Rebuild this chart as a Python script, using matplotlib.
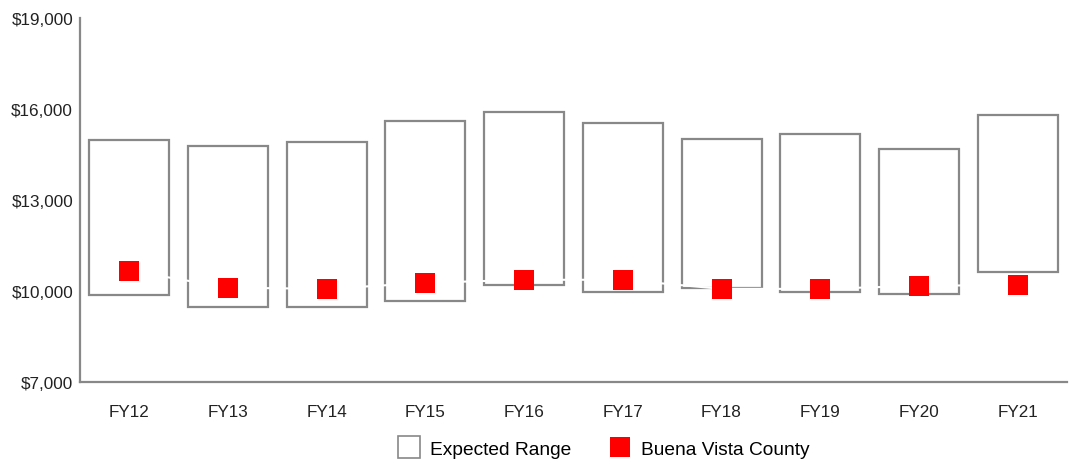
import matplotlib
matplotlib.use("Agg")
import matplotlib.pyplot as plt
from matplotlib.patches import Rectangle
from matplotlib.lines import Line2D
from matplotlib.ticker import FuncFormatter

plt.rcParams['font.family'] = ['Liberation Sans', 'DejaVu Sans']

categories = ["FY12", "FY13", "FY14", "FY15", "FY16", "FY17", "FY18", "FY19", "FY20", "FY21"]
range_low = [9880, 9480, 9460, 9680, 10190, 9960, 10090, 9980, 9890, 10620]
range_high = [14970, 14780, 14910, 15600, 15900, 15540, 15010, 15170, 14690, 15810]
county = [10670, 10110, 10070, 10270, 10370, 10370, 10070, 10070, 10170, 10200]
y_ticks = [7000, 10000, 13000, 16000, 19000]

gray = "#888888"
fig = plt.figure(figsize=(10.73, 4.6), dpi=100)
ax = fig.add_axes([80/1073, 77/460, (1067-80)/1073, (383-19)/460])

x = list(range(len(categories)))
w = 0.81
for i, (lo, hi) in enumerate(zip(range_low, range_high)):
    ax.add_patch(Rectangle((i - w/2, lo), w, hi - lo, facecolor="white",
                           edgecolor=gray, linewidth=1.6, zorder=1))

ax.plot(x, county, color="white", linewidth=1.5, zorder=2)
ax.plot(x, county, linestyle="none", marker="s", markersize=14.4,
        color="#ff0000", markeredgewidth=0, zorder=3)

ax.set_xlim(-0.5, len(categories) - 0.5)
ax.set_ylim(7000, 19000)
ax.set_yticks(y_ticks)
ax.yaxis.set_major_formatter(FuncFormatter(lambda v, p: f"${int(v):,}"))
ax.set_xticks(x)
ax.set_xticklabels(categories)
ax.tick_params(axis="both", length=0, labelsize=12.3, colors="#222222", pad=5)
ax.tick_params(axis="x", pad=16)
for s in ["top", "right"]:
    ax.spines[s].set_visible(False)
for s in ["left", "bottom"]:
    ax.spines[s].set_color(gray)
    ax.spines[s].set_linewidth(1.6)

handles = [
    Line2D([], [], linestyle="none", marker="s", markersize=16,
           markerfacecolor="white", markeredgecolor=gray, markeredgewidth=1.2),
    Line2D([], [], linestyle="none", marker="s", markersize=15,
           markerfacecolor="#ff0000", markeredgewidth=0),
]
fig.legend(handles, ["Expected Range", "Buena Vista County"], loc="center",
           bbox_to_anchor=(604/1073, 10/460), ncol=2, frameon=False,
           fontsize=13.8, handlelength=1.1, handletextpad=0.55, columnspacing=2.0)

fig.savefig("out.png", dpi=100)
